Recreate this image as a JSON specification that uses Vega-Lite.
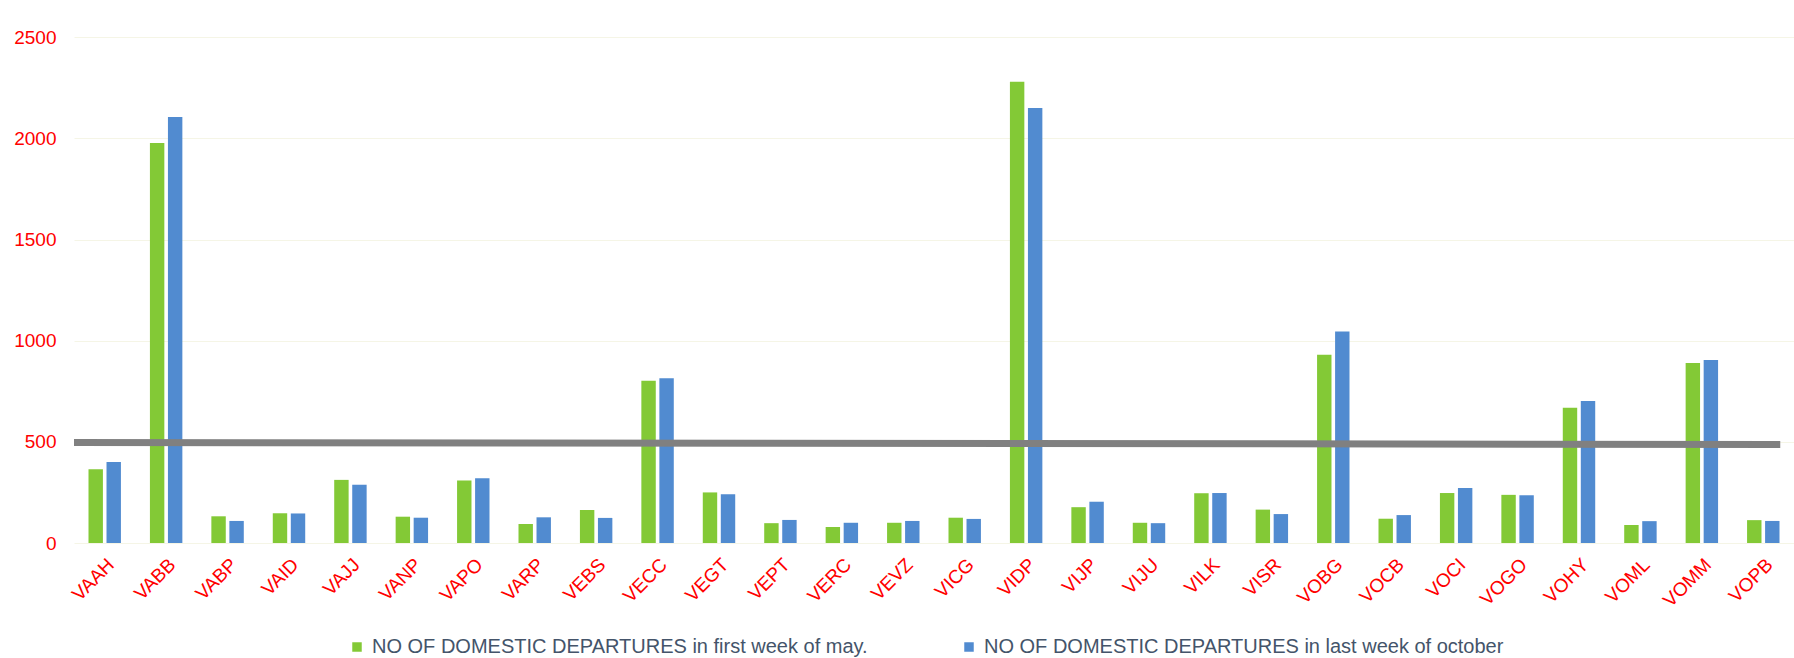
{
  "$schema": "https://vega.github.io/schema/vega-lite/v6.json",
  "width": 1720,
  "height": 526,
  "autosize": "none",
  "padding": {"left": 74, "top": 17, "right": 0, "bottom": 115},
  "config": {"view": {"stroke": null}, "font": "Liberation Sans"},
  "datasets": {
    "bars": [
      {"airport": "VAAH", "first": 365, "last": 400},
      {"airport": "VABB", "first": 1977, "last": 2106},
      {"airport": "VABP", "first": 132, "last": 109},
      {"airport": "VAID", "first": 147, "last": 146},
      {"airport": "VAJJ", "first": 312, "last": 288},
      {"airport": "VANP", "first": 130, "last": 125},
      {"airport": "VAPO", "first": 309, "last": 320},
      {"airport": "VARP", "first": 94, "last": 127},
      {"airport": "VEBS", "first": 163, "last": 124},
      {"airport": "VECC", "first": 802, "last": 814},
      {"airport": "VEGT", "first": 250, "last": 241},
      {"airport": "VEPT", "first": 98, "last": 114},
      {"airport": "VERC", "first": 79, "last": 100},
      {"airport": "VEVZ", "first": 100, "last": 109},
      {"airport": "VICG", "first": 125, "last": 119},
      {"airport": "VIDP", "first": 2280, "last": 2150},
      {"airport": "VIJP", "first": 177, "last": 204},
      {"airport": "VIJU", "first": 100, "last": 98},
      {"airport": "VILK", "first": 246, "last": 247},
      {"airport": "VISR", "first": 165, "last": 143},
      {"airport": "VOBG", "first": 930, "last": 1045},
      {"airport": "VOCB", "first": 120, "last": 138},
      {"airport": "VOCI", "first": 247, "last": 272},
      {"airport": "VOGO", "first": 238, "last": 236},
      {"airport": "VOHY", "first": 669, "last": 702},
      {"airport": "VOML", "first": 89, "last": 108},
      {"airport": "VOMM", "first": 890, "last": 905},
      {"airport": "VOPB", "first": 113, "last": 109}
    ],
    "trend": [
      {"pos": 0, "value": 497},
      {"pos": 0.992, "value": 487}
    ]
  },
  "layer": [
    {
      "data": {"name": "bars"},
      "transform": [{"fold": ["first", "last"]}],
      "mark": {"type": "bar"},
      "encoding": {
        "x": {
          "field": "airport", "type": "nominal", "sort": null,
          "scale": {"paddingInner": 0.472, "paddingOuter": 0.236},
          "axis": {"title": null, "labelAngle": -45, "labelColor": "#FF0000", "labelFontSize": 19, "ticks": false, "domain": false, "labelPadding": 12}
        },
        "xOffset": {"field": "key", "type": "nominal", "sort": ["first", "last"], "scale": {"paddingInner": 0.2}},
        "y": {
          "field": "value", "type": "quantitative",
          "scale": {"domain": [0, 2500]},
          "axis": {"title": null, "values": [0, 500, 1000, 1500, 2000, 2500], "format": "d", "labelColor": "#FF0000", "labelFontSize": 19, "grid": true, "gridColor": "#F5F5E6", "domain": false, "ticks": false, "labelPadding": 18}
        },
        "color": {
          "field": "key", "type": "nominal",
          "scale": {"domain": ["first", "last"], "range": ["#83C936", "#518BD0"]},
          "legend": {
            "title": null, "orient": "none", "legendX": 273, "legendY": 620, "direction": "horizontal",
            "labelExpr": "datum.label == 'first' ? 'NO OF DOMESTIC  DEPARTURES in first  week of may.' : 'NO OF DOMESTIC  DEPARTURES in last week of october'",
            "labelFontSize": 20, "labelColor": "#44546A", "labelFont": "Liberation Sans",
            "labelLimit": 0, "symbolType": "square", "symbolSize": 90, "symbolStrokeWidth": 0,
            "columnPadding": 80, "labelOffset": 5
          }
        }
      }
    },
    {
      "data": {"name": "trend"},
      "mark": {"type": "line", "color": "#808080", "strokeWidth": 7},
      "encoding": {
        "x": {"field": "pos", "type": "quantitative", "scale": {"domain": [0, 1], "nice": false}, "axis": null},
        "y": {"field": "value", "type": "quantitative", "title": null}
      }
    }
  ],
  "resolve": {"scale": {"x": "independent"}}
}
